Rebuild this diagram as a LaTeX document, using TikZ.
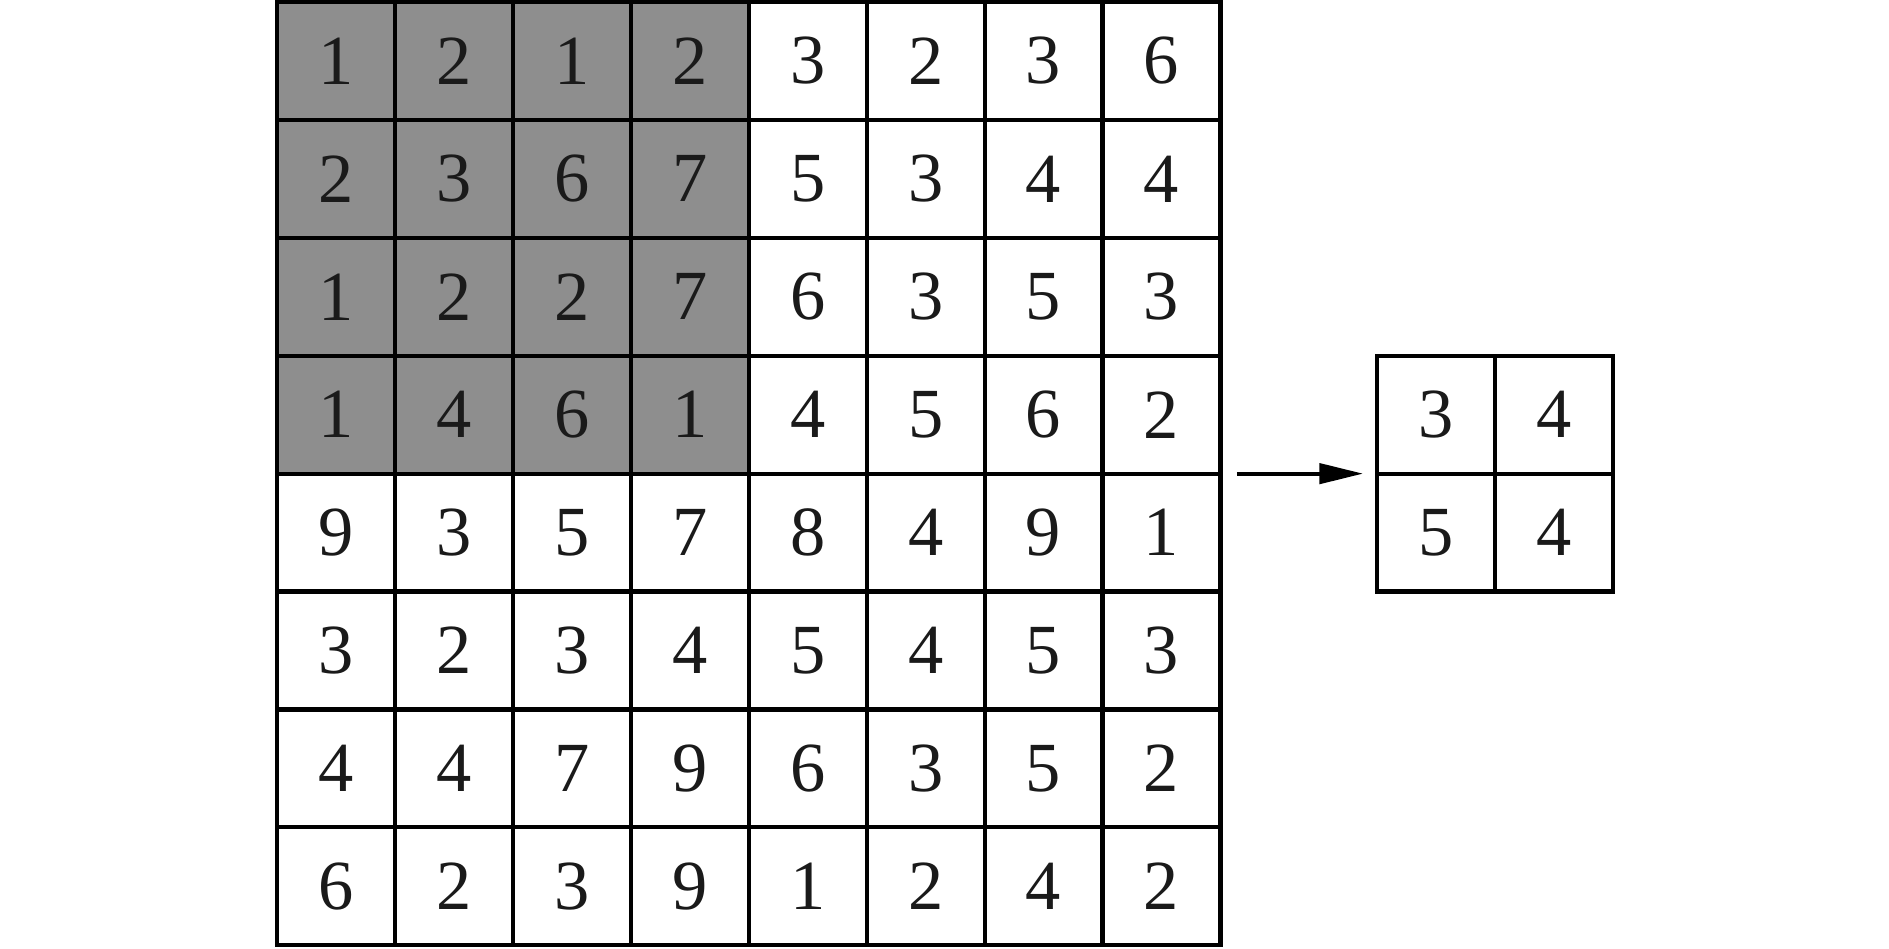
\documentclass[tikz,border=0pt]{standalone}
\usepackage{fontspec}
\setmainfont{Liberation Serif}
\usetikzlibrary{arrows.meta, positioning}
\definecolor{poolgray}{HTML}{8E8E8E}
\definecolor{ink}{HTML}{1A1A1A}
\tikzset{
  cell/.style = {draw=black, line width=1pt, fill=#1,
                 minimum size=1cm, inner sep=0pt, outer sep=0pt,
                 text=ink, font=\fontsize{17}{20}\selectfont},
  cell/.default = white,
  flow/.style = {-{Triangle[length=3.7mm, width=1.7mm]}, line width=1pt},
}
\begin{document}
\begin{tikzpicture}
    \useasboundingbox (-2.35,-0.025) rectangle (13.67,8.017);

    % input feature map, top-left 4x4 block shaded
    \foreach \row [count=\r] in {{1,2,1,2,3,2,3,6},{2,3,6,7,5,3,4,4},
                                 {1,2,2,7,6,3,5,3},{1,4,6,1,4,5,6,2},
                                 {9,3,5,7,8,4,9,1},{3,2,3,4,5,4,5,3},
                                 {4,4,7,9,6,3,5,2},{6,2,3,9,1,2,4,2}} {
      \foreach \v [count=\c] in \row {
        \def\fc{white}
        \ifnum\r<5 \ifnum\c<5 \def\fc{poolgray}\fi\fi
        \node[cell=\fc] (c-\r-\c) at (\c-0.5, 8.5-\r) {\v};
      }
    }

    % pooled output
    \node[cell]                    (p-1-1) at (9.83,4.5) {3};
    \node[cell, right=0pt of p-1-1] (p-1-2) {4};
    \node[cell, below=0pt of p-1-1] (p-2-1) {5};
    \node[cell, right=0pt of p-2-1] (p-2-2) {4};

    \draw[flow, shorten <=1.4mm, shorten >=1.2mm] (c-4-8.south east) -- (p-1-1.south west);
\end{tikzpicture}
\end{document}
